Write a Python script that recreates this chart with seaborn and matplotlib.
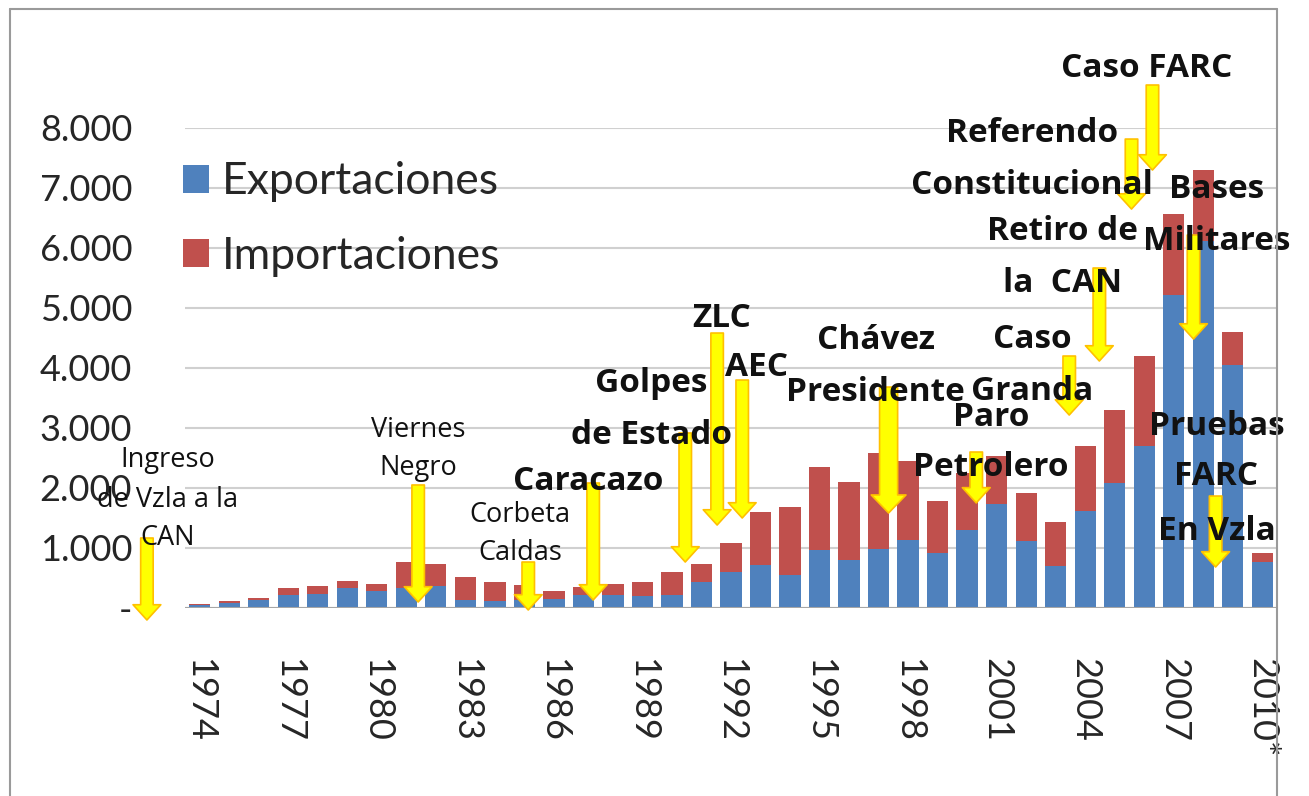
import numpy as np
import pandas as pd
import matplotlib
matplotlib.use('Agg')
import matplotlib.pyplot as plt
from matplotlib.lines import Line2D
import seaborn as sns

# Trade values by year (millions USD)
years = list(range(1974, 2011))
exports = [45, 85, 130, 215, 240, 340, 285, 340, 360, 130,
           115, 130, 155, 220, 220, 195, 220, 435, 600, 710,
           555, 960, 795, 985, 1140, 910, 1305, 1735, 1120, 695,
           1620, 2090, 2695, 5210, 6105, 4050, 770]
imports = [25, 25, 40, 115, 130, 115, 110, 420, 370, 380,
           325, 245, 120, 125, 175, 245, 380, 295, 485, 895,
           1130, 1385, 1300, 1590, 1310, 875, 940, 800, 800, 735,
           1075, 1215, 1500, 1355, 1185, 550, 140]
tick_labels = ['1974', '1977', '1980', '1983', '1986', '1989', '1992',
               '1995', '1998', '2001', '2004', '2007', '2010*']
series_names = ['Exportaciones', 'Importaciones']

# event annotations: text lines, x (category index), y of each line, weight, size
notes = [
    (['Ingreso', 'de Vzla a la', 'CAN'], -1.1, [2465, 1798, 1166], 'normal', 19.5),
    (['Viernes', 'Negro'], 7.4, [2965, 2332], 'normal', 19.5),
    (['Corbeta', 'Caldas'], 10.85, [1550, 915], 'normal', 19.5),
    (['Caracazo'], 13.16, [2099], 'bold', 24),
    (['Golpes', 'de Estado'], 15.3, [3747, 2881], 'bold', 24),
    (['ZLC'], 17.7, [4830], 'bold', 24),
    (['AEC'], 18.85, [4014], 'bold', 24),
    (['Chávez', 'Presidente'], 22.9, [4463, 3597], 'bold', 24),
    (['Paro', 'Petrolero'], 26.8, [3181, 2348], 'bold', 24),
    (['Caso', 'Granda'], 28.2, [4480, 3614], 'bold', 24),
    (['Retiro de', 'la  CAN'], 29.22, [6279, 5413], 'bold', 24),
    (['Referendo', 'Constitucional'], 28.2, [7911, 7045], 'bold', 24),
    (['Caso FARC'], 32.1, [8994], 'bold', 24),
    (['Bases', 'Militares'], 34.46, [6978, 6112], 'bold', 24),
    (['Pruebas', 'FARC', 'En Vzla'], 34.45, [3031, 2198, 1282], 'bold', 24),
]
# arrows: x, y start, y end, big
arrows = [
    (-1.79, 1166, -200, False), (7.4, 2049, 100, False), (11.13, 766, -33, False),
    (13.33, 2082, 133, False), (16.45, 2915, 766, False), (17.53, 4580, 1382, False),
    (18.38, 3797, 1499, False), (23.34, 3680, 1582, True), (26.31, 2598, 1750, False),
    (29.46, 4197, 3214, False), (30.48, 5663, 4114, False), (31.57, 7811, 6645, False),
    (32.28, 8711, 7295, False), (33.67, 6212, 4480, False), (34.42, 1865, 683, False),
]

BLUE = '#4F81BD'
RED = '#C0504D'

df = pd.DataFrame({'year': [str(y) for y in years], 'exp': exports, 'imp': imports})
df['total'] = df['exp'] + df['imp']

sns.set_style('white')
plt.rcParams['font.family'] = ['Lato', 'DejaVu Sans']

W, H = 1309, 796
fig = plt.figure(figsize=(W / 100, H / 100), dpi=100)
ax = fig.add_axes([185 / W, 1 - 608 / H, (1277 - 185) / W, (608 - 127.7) / H])

sns.barplot(data=df, x='year', y='total', color=RED, width=0.72, saturation=1,
            errorbar=None, label=series_names[1], linewidth=0, ax=ax, zorder=2)
sns.barplot(data=df, x='year', y='exp', color=BLUE, width=0.72, saturation=1,
            errorbar=None, label=series_names[0], linewidth=0, ax=ax, zorder=2)

ax.set_xlim(-0.5, len(years) - 0.5)
ax.set_ylim(0, 8000)
ax.set_yticks(range(0, 9000, 1000))
ax.set_yticklabels(['-'] + [f'{v // 1000}.000' for v in range(1000, 9000, 1000)], fontsize=26)
ax.set_xticks(range(0, len(years), 3))
ax.set_xticklabels(tick_labels, rotation=-90, fontsize=26)
ax.tick_params(axis='x', length=0, pad=36)
ax.tick_params(axis='y', length=0, pad=38)
ax.set_xlabel('')
ax.set_ylabel('')
ax.yaxis.grid(True, color='#d0d0d0', lw=1.5)
ax.set_axisbelow(True)
for s in ax.spines.values():
    s.set_visible(False)
ax.axhline(0, color='#a6a6a6', lw=1.5, zorder=3)

handles, labels = ax.get_legend_handles_labels()
order = [labels.index(n) for n in series_names]
ax.legend([handles[i] for i in order], [labels[i] for i in order],
          loc='upper left', bbox_to_anchor=(-0.002, 0.93), frameon=False,
          fontsize=32, handlelength=0.6, handleheight=0.6, handletextpad=0.27,
          labelspacing=0.75, borderpad=0, borderaxespad=0)

# outer chart frame
frame_kw = dict(transform=fig.transFigure, color='#9a9a9a', lw=1.5)
fig.add_artist(Line2D([10 / W, 10 / W], [0, 1 - 9 / H], **frame_kw))
fig.add_artist(Line2D([10 / W, 1277 / W], [1 - 9 / H, 1 - 9 / H], **frame_kw))
fig.add_artist(Line2D([1277 / W, 1277 / W], [0, 1 - 9 / H], **frame_kw))

for x, y0, y1, big in arrows:
    if big:
        style = 'simple,head_length=13,head_width=25,tail_width=13'
    else:
        style = 'simple,head_length=11,head_width=20,tail_width=9'
    ax.annotate('', xy=(x, y1), xytext=(x, y0), annotation_clip=False,
                arrowprops=dict(arrowstyle=style, mutation_scale=1, fc='#FFFF00',
                                ec='#FFC000', lw=1.2, shrinkA=0, shrinkB=0),
                zorder=4)

for lines, x, ys, weight, size in notes:
    for line, y in zip(lines, ys):
        ax.text(x, y, line, ha='center', va='center', fontsize=size,
                fontweight=weight, family=['Open Sans', 'DejaVu Sans'],
                color='#111111', zorder=5, clip_on=False)

fig.savefig('out.png', dpi=100)
